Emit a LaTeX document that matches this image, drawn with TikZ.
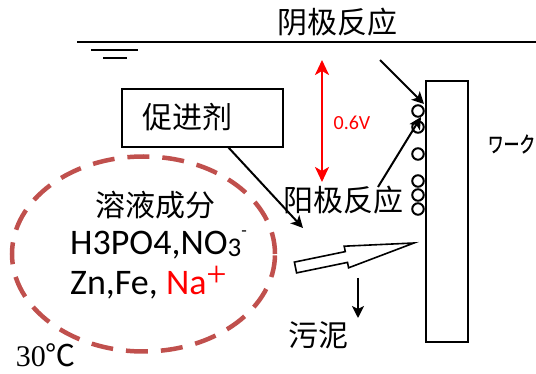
\documentclass[tikz,border=0pt]{standalone}
\usepackage{fontspec}
\usetikzlibrary{arrows.meta,shapes.geometric}
\newfontfamily\cjkf{Noto Sans CJK SC}
\newfontfamily\jpf[FakeBold=1.2]{Noto Sans CJK JP}
\newfontfamily\calf{Carlito}
\newfontfamily\tnrf{Liberation Serif}
\definecolor{dred}{HTML}{C0504D}
\definecolor{pred}{HTML}{FF0000}
\tikzset{
  cjklabel/.style={inner sep=0pt, font=\cjkf\fontsize{30}{30}\selectfont},
  latinline/.style={anchor=base west, inner sep=0pt, text height=26pt, text depth=7pt, font=\calf\fontsize{36}{36}\selectfont},
  blkarrow/.style={line width=2pt, -{Stealth[length=12pt,width=12pt,inset=3pt]}},
  thinline/.style={line width=2pt},
  bub/.style={circle, draw, line width=2pt, minimum size=11.5pt, inner sep=0pt},
}
\begin{document}
\begin{tikzpicture}[x=1pt,y=-1pt]
\useasboundingbox (0,0) rectangle (536,374);
% liquid surface and ground symbol
\coordinate (surfL) at (77,42);
\coordinate (surfR) at (536,42);
\coordinate (g1L) at (91,50);
\coordinate (g1R) at (138,50);
\coordinate (g2L) at (103,58);
\coordinate (g2R) at (127,58);
\draw[thinline] (surfL) -- (surfR);
\draw[thinline] (g1L) -- (g1R);
\draw[thinline] (g2L) -- (g2R);
% labels
\node[cjklabel] (cath) at (337,22) {阴极反应};
\node[cjklabel] (anod) at (343.5,200) {阳极反应};
\node[cjklabel] (soltitle) at (155.5,205) {溶液成分};
\node[cjklabel] (sludge) at (318,335) {污泥};
% promoter box
\node[draw, line width=2pt, minimum width=161pt, minimum height=58pt, inner sep=0pt] (prom) at (202.5,118) {};
\node[cjklabel] (promtxt) at (187.5,117) {促进剂};
% workpiece
\node[draw, line width=2pt, minimum width=42pt, minimum height=261pt, inner sep=0pt] (work) at (447,211.5) {};
\node[inner sep=0pt] (worklbl) at (511.5,144) {\scalebox{0.72}[1]{\jpf\fontsize{22}{22}\selectfont ワーク}};
% bubbles
\foreach \yy [count=\i] in {111,127,154,181,195,209} {
  \node[bub] (b\i) at (418,\yy) {};
}
% voltage arrow
\coordinate (vtop) at (322,60);
\coordinate (vbot) at (322,182);
\draw[line width=2.5pt, pred, {Stealth[length=15pt,width=14pt,inset=4pt]}-{Stealth[length=15pt,width=14pt,inset=4pt]}] (vtop) -- (vbot);
\node[inner sep=0pt, text=pred, font=\calf\fontsize{20}{20}\selectfont] (volt) at (352,122.5) {0.6V};
% black arrows
\coordinate (cathS) at (380,60);
\coordinate (cathE) at (424,104);
\draw[blkarrow] (cathS) -- (cathE);
\coordinate (anS) at (378,187);
\coordinate (anE) at (421,117);
\draw[blkarrow] (anS) -- (anE);
\coordinate (promS) at (228,147);
\coordinate (promE) at (303,228);
\draw[blkarrow] (promS) -- (promE);
\coordinate (slS) at (358,278);
\coordinate (slE) at (358,318);
\draw[blkarrow] (slS) -- (slE);
% solution ellipse
\node[ellipse, draw=dred, dash pattern=on 22pt off 13pt, line width=4.5pt, minimum width=263pt, minimum height=195pt, inner sep=0pt] (sol) at (143.5,254) {};
\node[latinline] (line1) at (70,255) {H3PO4,NO\raisebox{-2pt}{\fontsize{27}{27}\selectfont 3}\smash{\raisebox{18pt}{\fontsize{18}{18}\selectfont -}}};
\node[latinline] (line2) at (70,295) {Zn,Fe, {\color{pred}Na\smash{\raisebox{8pt}{\tnrf\fontsize{36}{36}\selectfont +}}}};
\node[inner sep=0pt] (temp) at (46,355) {\tnrf\fontsize{30}{30}\selectfont 30{\cjkf ℃}};
% hollow block arrow
\coordinate (h1) at (294.4,262.1);
\coordinate (h2) at (345.3,251.6);
\coordinate (h3) at (344.2,246.2);
\coordinate (h4) at (414,243);
\coordinate (h5) at (348.6,267.8);
\coordinate (h6) at (347.5,262.4);
\coordinate (h7) at (296.6,272.9);
\draw[line width=1.6pt, line join=miter, fill=white] (h1) -- (h2) -- (h3) -- (h4) -- (h5) -- (h6) -- (h7) -- cycle;
\end{tikzpicture}
\end{document}
